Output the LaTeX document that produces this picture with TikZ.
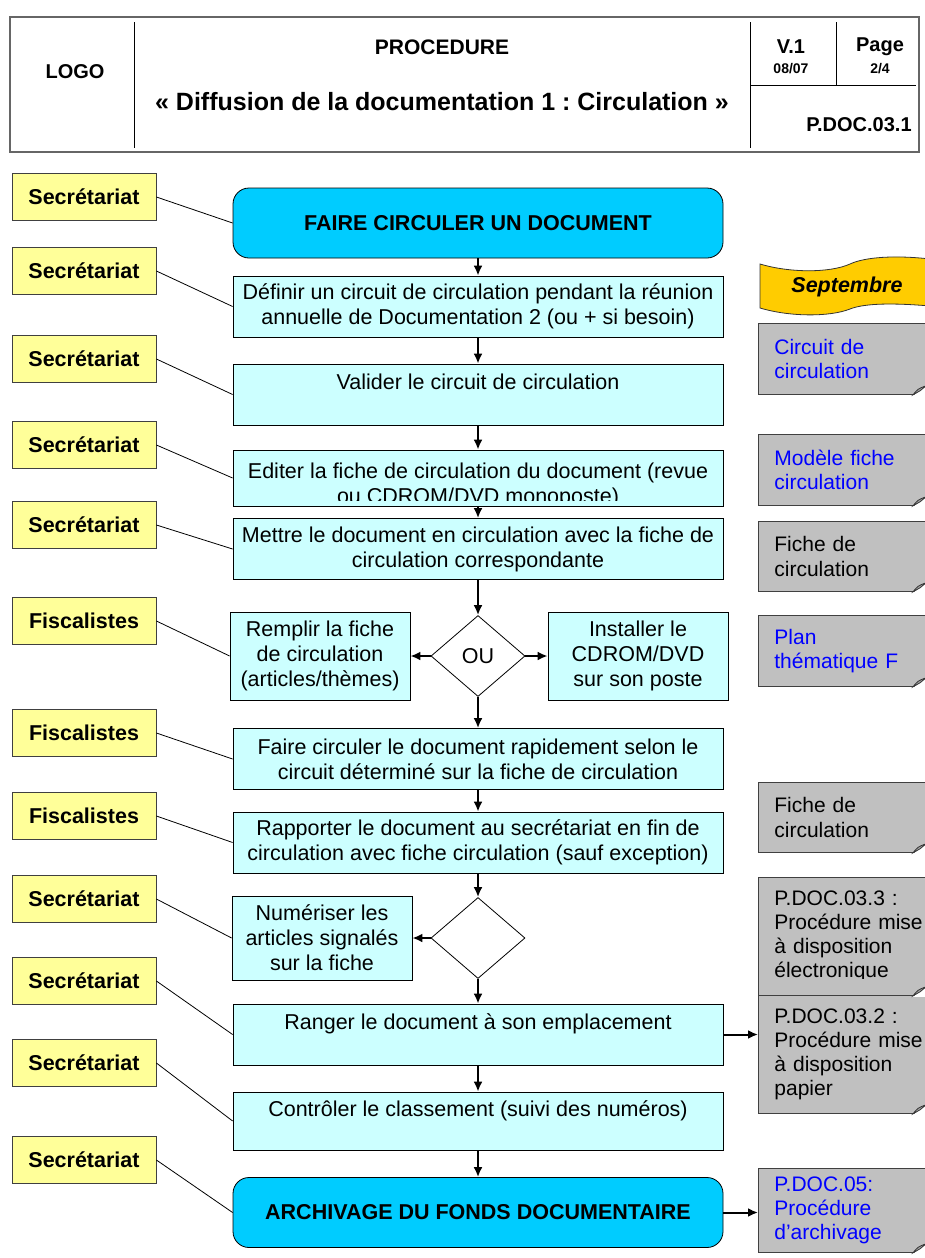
\documentclass[tikz,border=0pt]{standalone}
\usepackage{fontspec}
\setmainfont{Liberation Sans}
\usepackage{tikz}
\usetikzlibrary{arrows,arrows.meta,shapes,calc}
\frenchspacing
\definecolor{roleyellow}{HTML}{FFFF99}
\definecolor{taskcyan}{HTML}{CCFFFF}
\definecolor{termblue}{HTML}{00CCFF}
\definecolor{notegray}{HTML}{C0C0C0}
\definecolor{bannergold}{HTML}{FFCC00}
\definecolor{noteblue}{HTML}{0000FF}
\newcommand{\bodysize}{\fontsize{10.75pt}{12.5pt}\selectfont}
\newcommand{\headsize}{\fontsize{10pt}{12pt}\selectfont}
\newcommand{\titlesize}{\fontsize{12.5pt}{14pt}\selectfont}
\newcommand{\tinysize}{\fontsize{7pt}{8pt}\selectfont}
\tikzstyle{head}=[font=\headsize\bfseries,inner sep=0pt]
\tikzstyle{role}=[draw=black!75,fill=roleyellow,font=\bodysize\bfseries,minimum width=72pt,minimum height=23.5pt,inner sep=0pt]
\tikzstyle{task}=[draw,fill=taskcyan,font=\bodysize,align=center,minimum width=245pt,minimum height=30.5pt,inner sep=0pt]
\tikzstyle{terminal}=[task,fill=termblue,rounded corners=8pt,minimum height=35pt,font=\bodysize\bfseries]
\tikzstyle{side}=[draw,fill=taskcyan,font=\bodysize,align=center,minimum width=90pt,minimum height=44pt,inner sep=0pt]
\tikzstyle{choice}=[diamond,draw,fill=white,font=\bodysize,minimum width=47pt,minimum height=40.5pt,inner sep=0pt]
\tikzstyle{note}=[draw=black!75,fill=notegray,anchor=north west,font=\fontsize{10.5pt}{12.1pt}\selectfont,text width=77pt,inner xsep=8pt,inner ysep=0pt,align=left]
\tikzstyle{flow}=[draw,line width=1pt,-{Latex[length=5pt,width=4.5pt]}]
\tikzstyle{link}=[draw,thin]

\begin{document}
\begin{tikzpicture}[x=0.5pt,y=-0.5pt]
  \useasboundingbox (0,0) rectangle (925,1258);
  % header
  \draw[black!60,line width=1.1pt] (10,17) rectangle (919,152);
  \draw (134,22) -- (134,148);
  \draw (750,22) -- (750,148);
  \draw (836,22) -- (836,85);
  \draw (750,85) -- (916,85);
  \node[head] (logo) at (75,72) {LOGO};
  \node[head,font=\fontsize{10.5pt}{12pt}\selectfont\bfseries] (proc) at (442,47) {PROCEDURE};
  \node[head,font=\titlesize\bfseries] (title) at (442,102) {« Diffusion de la documentation 1 : Circulation »};
  \node[head] (version) at (791,47) {V.1};
  \node[head,font=\tinysize\bfseries] (date) at (791,69) {08/07};
  \node[head] (page) at (880,47) {Page};
  \node[head,font=\tinysize\bfseries] (pages) at (880,69) {2/4};
  \node[head,anchor=east] (ref) at (912,125) {P.DOC.03.1};

  % who does it
  \node[role] (r1) at (84,197) {Secrétariat};
  \node[role] (r2) at (84,271) {Secrétariat};
  \node[role] (r3) at (84,359) {Secrétariat};
  \node[role] (r4) at (84,445) {Secrétariat};
  \node[role] (r5) at (84,525) {Secrétariat};
  \node[role] (r6) at (84,621) {Fiscalistes};
  \node[role] (r7) at (84,733) {Fiscalistes};
  \node[role] (r8) at (84,816) {Fiscalistes};
  \node[role] (r9) at (84,899) {Secrétariat};
  \node[role] (r10) at (84,981) {Secrétariat};
  \node[role] (r11) at (84,1063) {Secrétariat};
  \node[role] (r12) at (84,1160) {Secrétariat};

  % steps
  \node[terminal] (start) at (478,223) {FAIRE CIRCULER UN DOCUMENT};
  \node[task] (define) at (478,306.5) {Définir un circuit de circulation pendant la réunion\\annuelle de Documentation 2 (ou + si besoin)};
  \node[task] (check) at (478,394.5) {Valider le circuit de circulation\\\mbox{}};
  \node[task,minimum height=28pt] (edit) at (478,478) {};
  \begin{scope}
    \clip (edit.north west) rectangle ($(edit.south east)+(0,-6)$);
    \node[font=\bodysize,align=center,inner sep=0pt] (edittext) at (478,485) {Editer la fiche de circulation du document (revue\\ou CDROM/DVD monoposte)};
  \end{scope}
  \node[task] (spread) at (478,549) {Mettre le document en circulation avec la fiche de\\circulation correspondante};
  \node[choice] (or1) at (478,656) {OU};
  \node[side] (fill) at (320,656) {Remplir la fiche\\de circulation\\(articles/thèmes)};
  \node[side] (install) at (638,656) {Installer le\\CDROM/DVD\\sur son poste};
  \node[task] (pass) at (478,759) {Faire circuler le document rapidement selon le\\circuit déterminé sur la fiche de circulation};
  \node[task] (bring) at (478,842.5) {Rapporter le document au secrétariat en fin de\\circulation avec fiche circulation (sauf exception)};
  \node[choice] (or2) at (478,938) {};
  \node[side,minimum height=42pt] (scan) at (322,938) {Numériser les\\articles signalés\\sur la fiche};
  \node[task] (store) at (478,1034.5) {Ranger le document à son emplacement\\\mbox{}};
  \node[task,minimum height=29pt] (control) at (478,1121) {Contrôler le classement (suivi des numéros)\\\mbox{}};
  \node[terminal] (archive) at (478,1212.5) {ARCHIVAGE DU FONDS DOCUMENTAIRE};

  % documents
  \filldraw[fill=bannergold,draw=black!80] (760,264) .. controls (790,273) and (830,273) .. (850,264)
    .. controls (865,257) and (895,255) .. (930,259) -- (930,306)
    .. controls (895,303) and (865,303) .. (850,309) .. controls (830,317) and (790,317) .. (760,308) -- cycle;
  \node[font=\bodysize\bfseries\itshape] (month) at (847,287) {Septembre};
  \node[note,minimum height=35.5pt,text=noteblue] (circuit) at (758,323) {Circuit de\\circulation};
  \node[note,minimum height=35.5pt,text=noteblue] (model) at (758,434) {Modèle fiche\\circulation};
  \node[note,minimum height=35pt] (sheet) at (758,521) {Fiche de\\circulation};
  \node[note,minimum height=35.5pt,text=noteblue] (plan) at (758,615) {Plan\\thématique F};
  \node[note,minimum height=35pt] (sheetback) at (758,782) {Fiche de\\circulation};
  \node[note,minimum height=59pt] (pdocdigital) at (758,877) {};
  \begin{scope}
    \clip (pdocdigital.north west) rectangle ($(pdocdigital.south east)+(0,-17)$);
    \node[note,draw=none,fill=none,minimum height=59pt] (pdocdigitaltext) at (758,877) {P.DOC.03.3 :\\Procédure mise\\à disposition\\électronique};
  \end{scope}
  \node[note,minimum height=59pt] (pdocpaper) at (758,995) {P.DOC.03.2 :\\Procédure mise\\à disposition\\papier};
  \node[note,minimum height=42pt,text=noteblue] (pdocarchive) at (758,1168) {P.DOC.05:\\Procédure\\d’archivage};
  \foreach \n in {circuit,model,sheet,plan,sheetback,pdocdigital,pdocpaper,pdocarchive} {
    \fill[white] ($(\n.south west)+(155,1)$) -- ($(\n.south west)+(175,1)$) -- ($(\n.south west)+(175,-13)$) -- cycle;
    \filldraw[fill=black!35,draw=black!80] ($(\n.south west)+(155,0)$) .. controls ($(\n.south west)+(160,-6)$) .. ($(\n.south west)+(168,-9)$) -- ($(\n.south west)+(162,-4)$) -- cycle;
  }

  % flow
  \draw[flow] (start) -- (define);
  \draw[flow] (define) -- (check);
  \draw[flow] (check) -- (edit);
  \draw[flow] (edit) -- (spread);
  \draw[flow] (spread) -- (or1);
  \draw[flow] (or1.west) -- (fill.east);
  \draw[flow] (or1.east) -- (install.west);
  \draw[flow] (or1) -- (pass);
  \draw[flow] (pass) -- (bring);
  \draw[flow] (bring) -- (or2);
  \draw[flow] (or2.west) -- (scan.east);
  \draw[flow] (or2) -- (store);
  \draw[flow] (store) -- (control);
  \draw[flow] (control) -- (archive);
  \draw[flow] (store.east) -- (store.east -| pdocpaper.west);
  \draw[flow] (archive.east) -- (archive.east -| pdocarchive.west);

  % who links
  \draw[link] (r1.east) -- (start.west);
  \draw[link] (r2.east) -- (define.west);
  \draw[link] (r3.east) -- (check.west);
  \draw[link] (r4.east) -- (edit.west);
  \draw[link] (r5.east) -- (spread.west);
  \draw[link] (r6.east) -- (fill.west);
  \draw[link] (r7.east) -- (pass.west);
  \draw[link] (r8.east) -- (bring.west);
  \draw[link] (r9.east) -- (scan.west);
  \draw[link] (r10.east) -- (store.west);
  \draw[link] (r11.east) -- (control.west);
  \draw[link] (r12.east) -- (archive.west);
\end{tikzpicture}
\end{document}
